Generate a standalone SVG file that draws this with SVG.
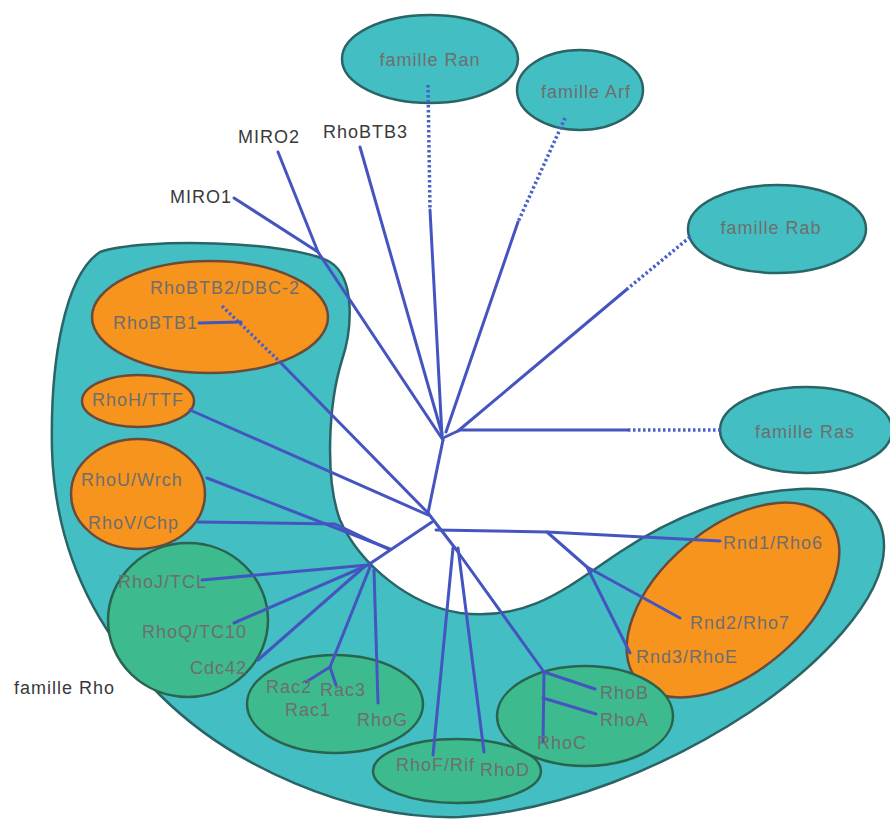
<svg xmlns="http://www.w3.org/2000/svg" width="890" height="821" viewBox="0 0 890 821">
<defs>
<style>
.teal{fill:#43bfc3;stroke:#2b6466;stroke-width:2.5}
.org{fill:#f7941e;stroke:#6b4a3a;stroke-width:2.5}
.grn{fill:#3dbb8e;stroke:#2a6450;stroke-width:2.5}
.ln{fill:none;stroke:#4555c0;stroke-width:3;stroke-linecap:round;stroke-linejoin:round}
.dt{fill:none;stroke:#4a60c8;stroke-width:3.5;stroke-dasharray:2.5 2.5}
text{font-family:"Liberation Sans",Arial,sans-serif;font-size:18px;letter-spacing:1px}
.in{fill:#6e6e6e}
.out{fill:#3a3a3a}
</style>
</defs>
<rect width="890" height="821" fill="#ffffff"/>
<g id="famille-rho">
<path class="teal" d="M100,252 C140,238 290,240 330,262 C356,278 352,330 342,360 C328,405 325,480 340,520 C360,565 410,605 460,613 C530,622 570,585 620,552 C680,512 740,492 800,489 C850,487 885,505 884,548 C883,600 820,665 750,712 C670,765 560,812 460,817 C350,820 230,765 160,695 C95,630 55,550 52,450 C50,360 65,275 100,252 Z"/>
</g>
<g id="ran"><ellipse class="teal" cx="430" cy="59" rx="88" ry="44"/></g>
<g id="arf"><ellipse class="teal" cx="580" cy="90" rx="63" ry="40"/></g>
<g id="rab"><ellipse class="teal" cx="777" cy="229" rx="89" ry="44"/></g>
<g id="ras"><ellipse class="teal" cx="806" cy="430" rx="86" ry="43"/></g>
<g id="rhobtb"><ellipse class="org" cx="210" cy="317" rx="118" ry="56"/></g>
<g id="rhoh"><ellipse class="org" cx="138" cy="401" rx="56" ry="26"/></g>
<g id="rhouv"><ellipse class="org" cx="138" cy="494" rx="67" ry="55"/></g>
<g id="rnd"><ellipse class="org" cx="733" cy="600" rx="125" ry="72" transform="rotate(-40 733 600)"/></g>
<g id="rhoj"><ellipse class="grn" cx="188" cy="620" rx="80" ry="77"/></g>
<g id="rac"><ellipse class="grn" cx="335" cy="704" rx="88" ry="49"/></g>
<g id="rhof"><ellipse class="grn" cx="457" cy="771" rx="84" ry="32"/></g>
<g id="rhoabc"><ellipse class="grn" cx="585" cy="716" rx="88" ry="50"/></g>
<g id="connectors">
<path class="dt" d="M428,85 L430,210"/>
<path class="dt" d="M565,118 L518,222"/>
<path class="dt" d="M690,237 L626,290"/>
<path class="dt" d="M628,430 L722,430"/>
<path class="dt" d="M222,306 L280,362"/>
<path class="ln" d="M430,210 L442,436"/>
<path class="ln" d="M518,222 L446,432"/>
<path class="ln" d="M626,290 L458,431"/>
<path class="ln" d="M443,438 L460,430 L628,430"/>
<path class="ln" d="M360,147 L442,434"/>
<path class="ln" d="M278,152 L318,252"/>
<path class="ln" d="M234,198 L318,252 L443,440"/>
<path class="ln" d="M443,440 L428,513"/>
<path class="ln" d="M280,362 L428,513"/>
<path class="ln" d="M199,323 L241,322"/>
<path class="ln" d="M190,410 L428,515"/>
<path class="ln" d="M428,513 L455,548"/>
<path class="ln" d="M436,530 L547,532 L720,541"/>
<path class="ln" d="M547,532 L587,567 L680,618"/>
<path class="ln" d="M587,567 L630,653"/>
<path class="ln" d="M455,548 L544,672 L595,689"/>
<path class="ln" d="M544,672 L543,742"/>
<path class="ln" d="M543,698 L596,714"/>
<path class="ln" d="M453,548 L433,755"/>
<path class="ln" d="M458,548 L484,752"/>
<path class="ln" d="M432,522 L368,565"/>
<path class="ln" d="M207,478 L390,549"/>
<path class="ln" d="M197,522 L335,524 L388,549"/>
<path class="ln" d="M368,565 L202,580"/>
<path class="ln" d="M368,565 L234,623"/>
<path class="ln" d="M364,567 L258,660"/>
<path class="ln" d="M370,567 L330,667 L306,682"/>
<path class="ln" d="M330,667 L336,685"/>
<path class="ln" d="M374,570 L378,703"/>
</g>
<g id="labels">
<text class="in" x="430" y="66" text-anchor="middle">famille Ran</text>
<text class="in" x="586" y="98" text-anchor="middle">famille Arf</text>
<text class="in" x="771" y="234" text-anchor="middle">famille Rab</text>
<text class="in" x="805" y="438" text-anchor="middle">famille Ras</text>
<text class="out" x="238" y="143">MIRO2</text>
<text class="out" x="323" y="138">RhoBTB3</text>
<text class="out" x="170" y="203">MIRO1</text>
<text class="in" x="150" y="294">RhoBTB2/DBC-2</text>
<text class="in" x="113" y="329">RhoBTB1</text>
<text class="in" x="92" y="406">RhoH/TTF</text>
<text class="in" x="81" y="486">RhoU/Wrch</text>
<text class="in" x="88" y="529">RhoV/Chp</text>
<text class="in" x="118" y="588">RhoJ/TCL</text>
<text class="in" x="142" y="638">RhoQ/TC10</text>
<text class="in" x="190" y="674">Cdc42</text>
<text class="out" x="14" y="694">famille Rho</text>
<text class="in" x="266" y="693">Rac2</text>
<text class="in" x="320" y="696">Rac3</text>
<text class="in" x="285" y="716">Rac1</text>
<text class="in" x="357" y="726">RhoG</text>
<text class="in" x="396" y="771">RhoF/Rif</text>
<text class="in" x="480" y="776">RhoD</text>
<text class="in" x="723" y="549">Rnd1/Rho6</text>
<text class="in" x="690" y="629">Rnd2/Rho7</text>
<text class="in" x="636" y="663">Rnd3/RhoE</text>
<text class="in" x="600" y="699">RhoB</text>
<text class="in" x="600" y="726">RhoA</text>
<text class="in" x="537" y="749">RhoC</text>
</g>
</svg>
